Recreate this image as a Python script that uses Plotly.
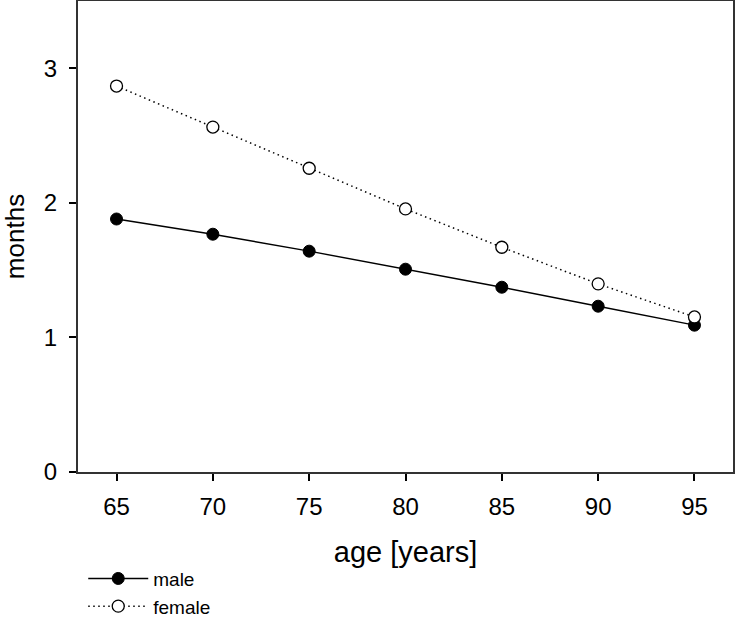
import plotly.graph_objects as go

age = [65, 70, 75, 80, 85, 90, 95]
male = [1.88, 1.767, 1.641, 1.507, 1.373, 1.232, 1.091]
female = [2.868, 2.563, 2.257, 1.955, 1.670, 1.398, 1.152]

FONT = "Liberation Sans, Arial"

fig = go.Figure()
fig.add_trace(go.Scatter(x=age, y=male, name="male", mode="lines+markers",
                         line=dict(color="black", width=1.4),
                         marker=dict(symbol="circle", size=12, color="black",
                                     line=dict(color="black", width=1))))
fig.add_trace(go.Scatter(x=age, y=female, name="female", mode="lines+markers",
                         line=dict(color="black", width=1.5, dash="1.5px,3.5px"),
                         marker=dict(symbol="circle", size=12, color="white",
                                     line=dict(color="black", width=1.3))))

axis_common = dict(showgrid=False, zeroline=False, showline=True, linecolor="#333",
                   linewidth=2, mirror=True, ticks="outside", ticklen=7,
                   tickcolor="black", tickwidth=1.5, automargin=True,
                   tickfont=dict(family=FONT, size=24, color="black"))

fig.update_xaxes(range=[63, 97], tickvals=[65, 70, 75, 80, 85, 90, 95],
                 ticklabelstandoff=5,
                 title=dict(text="age [years]", font=dict(family=FONT, size=29, color="black"),
                            standoff=23),
                 **axis_common)
fig.update_yaxes(range=[0, 3.5], tickvals=[0, 1, 2, 3],
                 ticklabelstandoff=7,
                 title=dict(text="months", font=dict(family=FONT, size=26, color="black"),
                            standoff=14),
                 **axis_common)

fig.update_layout(
    width=735, height=617,
    margin=dict(l=78, r=2, t=1, b=145, autoexpand=False),
    plot_bgcolor="white", paper_bgcolor="white",
    showlegend=True,
    legend=dict(x=0.008, y=-0.186, xanchor="left", yanchor="top", orientation="v",
                font=dict(family=FONT, size=19, color="black"),
                bgcolor="rgba(0,0,0,0)", tracegroupgap=0, itemwidth=60),
)

post = ("document.body.style.margin='0';"
        "var gd=document.getElementById('{plot_id}');"
        "Plotly.relayout(gd,{width:735,height:617});")

fig.write_html("out.html", post_script=post, config={"displayModeBar": False})
